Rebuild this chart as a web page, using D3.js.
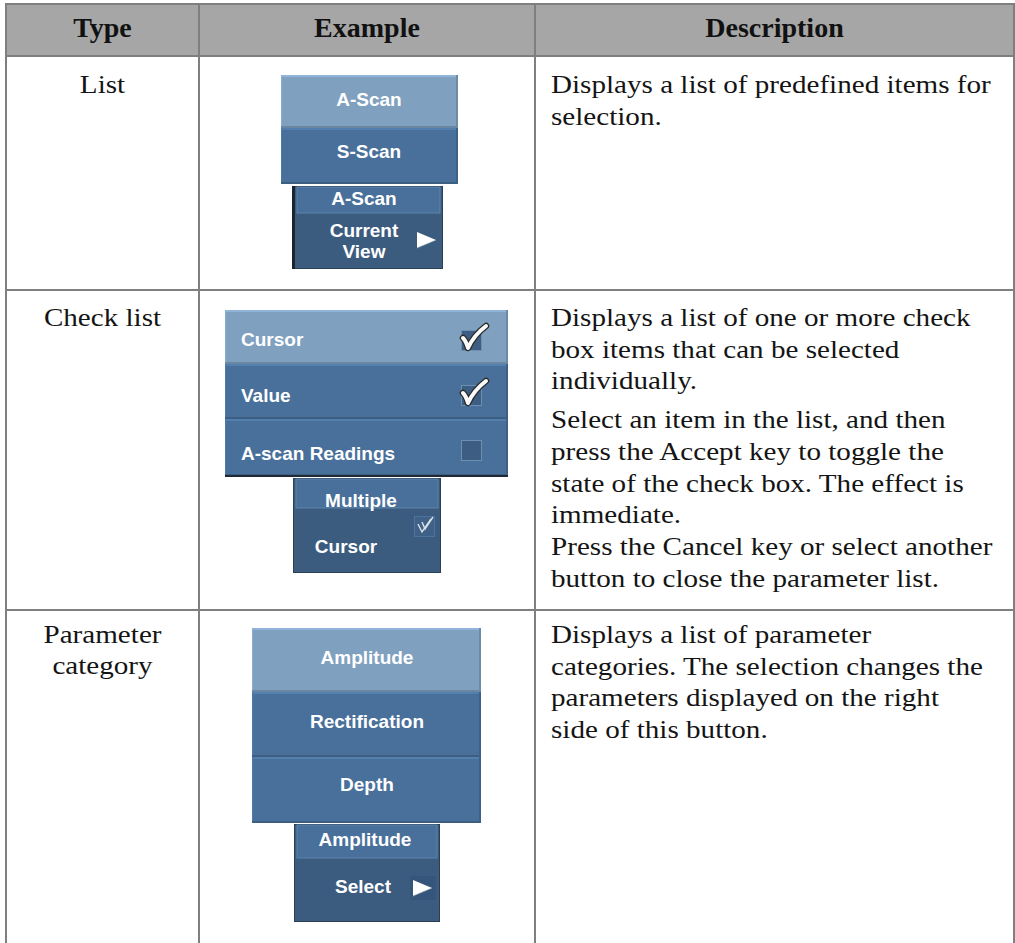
<!DOCTYPE html>
<html><head><meta charset="utf-8">
<script src="https://cdn.jsdelivr.net/npm/d3@7"></script>
<style>body{margin:0;background:#fff;overflow:hidden}</style>
</head><body>
<script>
// ---------- data ----------
const headers = ["Type", "Example", "Description"];
const types = [["List"], ["Check list"], ["Parameter", "category"]];
const descriptions = [
  [["Displays a list of predefined items for", "selection."]],
  [["Displays a list of one or more check", "box items that can be selected", "individually."],
   ["Select an item in the list, and then", "press the Accept key to toggle the",
    "state of the check box. The effect is", "immediate.",
    "Press the Cancel key or select another", "button to close the parameter list."]],
  [["Displays a list of parameter", "categories. The selection changes the",
    "parameters displayed on the right", "side of this button."]]
];
const listItems = ["A-Scan", "S-Scan"];
const listCurrentTitle = "A-Scan";
const listCurrentValue = ["Current", "View"];
const checkItems = ["Cursor", "Value", "A-scan Readings"];
const checkStates = [true, true, false];
const checkCurrentTitle = "Multiple";
const checkCurrentValue = ["Cursor"];
const categoryItems = ["Amplitude", "Rectification", "Depth"];
const categoryCurrentTitle = "Amplitude";
const categoryCurrentValue = ["Select"];

// ---------- layout ----------
const W = 1015, H = 943;
const svg = d3.select("body").append("svg").attr("width", W).attr("height", H);

const colX = [6, 199, 535, 1014];
const rowY = [4, 56, 290, 610, 960];
const gridColor = "#7f7f7f";
const SX = 1.12;

// header background
svg.append("rect").attr("x", colX[0]).attr("y", rowY[0])
  .attr("width", colX[3] - colX[0]).attr("height", rowY[1] - rowY[0]).attr("fill", "#a6a6a6");

// header text
svg.selectAll("text.hdr").data(headers).join("text").attr("class", "hdr")
  .attr("x", (d, i) => (colX[i] + colX[i + 1]) / 2).attr("y", 37)
  .attr("text-anchor", "middle")
  .style("font-family", "'Liberation Serif', serif").style("font-weight", "bold")
  .style("font-size", "28px").attr("fill", "#111").text(d => d);

function stext(g, x, y, str, anchor) {
  g.append("text").attr("transform", `translate(${x},${y}) scale(${SX},1)`)
    .attr("text-anchor", anchor)
    .style("font-family", "'Liberation Serif', serif").style("font-size", "26px")
    .attr("fill", "#141414").text(str);
}

const firstBase = [93, 326, 643];
const lh = 31.7, pgap = 7;
types.forEach((lines, r) => {
  lines.forEach((t, i) => stext(svg, (colX[0] + colX[1]) / 2, firstBase[r] + i * 31, t, "middle"));
});
descriptions.forEach((paras, r) => {
  let k = 0;
  paras.forEach((lines, p) => {
    lines.forEach(t => { stext(svg, 551, firstBase[r] + k * lh + p * pgap, t, "start"); k++; });
  });
});

// ---------- widgets ----------
const LIGHT = "#7fa0bf", MED = "#48709a", DARK = "#3c5c7f";
function btext(g, x, y, str, anchor) {
  g.append("text").attr("x", x).attr("y", y).attr("text-anchor", anchor || "middle")
    .style("font-family", "'Liberation Sans', Arial, sans-serif").style("font-weight", "bold")
    .style("font-size", "19px").attr("fill", "#fff").text(str);
}
function button(g, x, y, w, h, base) {
  const c = d3.color(base);
  g.append("rect").attr("x", x).attr("y", y).attr("width", w).attr("height", h).attr("fill", base);
  g.append("rect").attr("x", x).attr("y", y).attr("width", w).attr("height", 2).attr("fill", c.brighter(0.35));
  g.append("rect").attr("x", x).attr("y", y).attr("width", 1).attr("height", h).attr("fill", c.brighter(0.25));
  g.append("rect").attr("x", x).attr("y", y + h - 2).attr("width", w).attr("height", 2).attr("fill", c.darker(0.5));
  g.append("rect").attr("x", x + w - 2).attr("y", y).attr("width", 2).attr("height", h).attr("fill", c.darker(0.4));
}
function composite(g, x, y, w, h, topH, leftDark) {
  g.append("rect").attr("x", x).attr("y", y).attr("width", w).attr("height", h).attr("fill", "#2b3f55");
  g.append("rect").attr("x", x + (leftDark ? 3 : 1)).attr("y", y + 1).attr("width", w - (leftDark ? 4 : 2)).attr("height", h - 2).attr("fill", DARK);
  g.append("rect").attr("x", x + (leftDark ? 5 : 3)).attr("y", y + 1).attr("width", w - (leftDark ? 8 : 6)).attr("height", topH)
    .attr("fill", MED).attr("stroke", "#5d84ab").attr("stroke-width", 1);
  if (leftDark) g.append("rect").attr("x", x).attr("y", y).attr("width", 3).attr("height", h).attr("fill", "#1b2530");
}
function arrow(g, x, y) {
  g.append("path").attr("d", `M${x},${y} L${x + 19},${y + 8} L${x},${y + 16} Z`).attr("fill", "#fff");
  g.append("path").attr("d", `M${x},${y + 16} L${x + 19},${y + 8}`).attr("stroke", "#9fb3c6")
    .attr("stroke-width", 1).attr("stroke-dasharray", "1,1");
}
function checkbox(g, x, y, checked) {
  g.append("rect").attr("x", x + 0.5).attr("y", y + 0.5).attr("width", 20).attr("height", 20)
    .attr("fill", "#3d5e82").attr("stroke", "#6c8fb2").attr("stroke-width", 1);
  if (checked) {
    const d = `M${x + 2},${y + 8} Q${x + 5},${y + 11} ${x + 7},${y + 18} Q${x + 13},${y + 5} ${x + 25},${y - 4}`;
    g.append("path").attr("d", d).attr("fill", "none").attr("stroke", "#2a2a2a").attr("stroke-width", 6.5)
      .attr("stroke-linecap", "round").attr("stroke-linejoin", "round");
    g.append("path").attr("d", d).attr("fill", "none").attr("stroke", "#fafafa").attr("stroke-width", 4)
      .attr("stroke-linecap", "round").attr("stroke-linejoin", "round");
  }
}

const w = svg.append("g");

// List example
const listY = d3.scaleOrdinal().domain(listItems).range([75, 128]);
const listH = [53, 56];
listItems.forEach((t, i) => {
  button(w, 281, listY(t), 177, listH[i], i === 0 ? LIGHT : MED);
});
listItems.forEach((t, i) => btext(w, 369, [106, 158][i], t));
composite(w, 292, 186, 151, 83, 26, true);
btext(w, 364, 205, listCurrentTitle);
listCurrentValue.forEach((t, i) => btext(w, 364, 237 + i * 21, t));
arrow(w, 417, 232);

// Check list example
const checkTop = [310, 364, 419], checkH = [54, 55, 57];
checkItems.forEach((t, i) => button(w, 225, checkTop[i], 283, checkH[i], i === 0 ? LIGHT : MED));
w.append("rect").attr("x", 225).attr("y", 475).attr("width", 283).attr("height", 2).attr("fill", "#1f2a36");
checkItems.forEach((t, i) => {
  btext(w, 241, [346, 402, 460][i], t, "start");
  checkbox(w, 461, [330, 385, 440][i], checkStates[i]);
});
composite(w, 293, 478, 148, 95, 29, false);
btext(w, 361, 507, checkCurrentTitle);
checkCurrentValue.forEach((t, i) => btext(w, 346, 553 + i * 21, t));
w.append("rect").attr("x", 414.5).attr("y", 516.5).attr("width", 20).attr("height", 20)
  .attr("fill", "#3f6188").attr("stroke", "#4e739b");
["M418,524 L422,532 L431,519", "M422,522 L425,529 L433,517"].forEach(d =>
  w.append("path").attr("d", d).attr("fill", "none").attr("stroke", "#d9e1e8").attr("stroke-width", 1.4));

// Parameter category example
const catTop = [628, 692, 757], catH = [64, 65, 66];
categoryItems.forEach((t, i) => button(w, 252, catTop[i], 229, catH[i], i === 0 ? LIGHT : MED));
categoryItems.forEach((t, i) => btext(w, 367, [664, 728, 791][i], t));
composite(w, 294, 824, 146, 98, 33, false);
btext(w, 365, 846, categoryCurrentTitle);
categoryCurrentValue.forEach((t, i) => btext(w, 363, 893 + i * 21, t));
w.append("rect").attr("x", 410).attr("y", 876).attr("width", 26).attr("height", 24).attr("fill", "#36557a");
arrow(w, 413, 880);

// ---------- grid lines ----------
const grid = svg.append("g").attr("stroke", gridColor).attr("stroke-width", 2);
rowY.slice(0, 4).forEach(y => grid.append("line").attr("x1", colX[0] - 1).attr("x2", colX[3] + 1).attr("y1", y).attr("y2", y));
colX.forEach(x => grid.append("line").attr("x1", x).attr("x2", x).attr("y1", rowY[0]).attr("y2", H + 5));
</script>
</body></html>
